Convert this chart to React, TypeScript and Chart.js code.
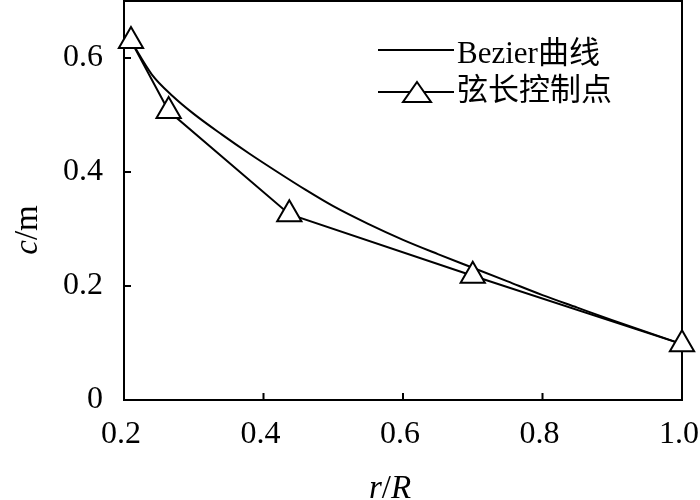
import React, { useEffect, useRef } from "react";
import { Chart, registerables } from "chart.js";

Chart.register(...registerables);

// ---- data ----
const controlR = [0.21, 0.264, 0.437, 0.7, 1.0];
const controlC = [0.63, 0.507, 0.326, 0.218, 0.098];

const bezierR = [0.21, 0.24, 0.27, 0.3, 0.34, 0.38, 0.42, 0.46, 0.5, 0.55, 0.6, 0.65, 0.7, 0.75, 0.8, 0.85, 0.9, 0.95, 1.0];
const bezierC = [0.63, 0.571, 0.533, 0.502, 0.466, 0.432, 0.4, 0.369, 0.34, 0.309, 0.281, 0.256, 0.232, 0.208, 0.184, 0.162, 0.14, 0.119, 0.098];

const xTicks = [0.2, 0.4, 0.6, 0.8, 1.0];
const xTickLabels = ["0.2", "0.4", "0.6", "0.8", "1.0"];
const yTicks = [0, 0.2, 0.4, 0.6];
const yTickLabels = ["0", "0.2", "0.4", "0.6"];

const seriesNames = ["Bezier曲线", "弦长控制点"];

const SERIF = '"Liberation Serif", "Times New Roman", "Noto Sans CJK SC", serif';

function drawMixed(ctx: CanvasRenderingContext2D, parts: { t: string; italic: boolean }[], cx: number, y: number, size: number) {
  let total = 0;
  const widths: number[] = [];
  for (const p of parts) {
    ctx.font = `${p.italic ? "italic " : ""}${size}px ${SERIF}`;
    const w = ctx.measureText(p.t).width;
    widths.push(w);
    total += w;
  }
  let x = cx - total / 2;
  ctx.textAlign = "left";
  ctx.textBaseline = "alphabetic";
  parts.forEach((p, i) => {
    ctx.font = `${p.italic ? "italic " : ""}${size}px ${SERIF}`;
    ctx.fillText(p.t, x, y);
    x += widths[i];
  });
}

const framePlugin = {
  id: "frameAndText",
  beforeDatasetsDraw(chart: any) {
    const { ctx, chartArea: a, scales } = chart;
    ctx.save();
    ctx.strokeStyle = "#000";
    ctx.lineWidth = 2;
    ctx.strokeRect(a.left, a.top, a.right - a.left, a.bottom - a.top);
    ctx.beginPath();
    for (const t of scales.x.ticks) {
      const px = scales.x.getPixelForValue(t.value);
      ctx.moveTo(px, a.bottom);
      ctx.lineTo(px, a.bottom - 7);
    }
    for (const t of scales.y.ticks) {
      const py = scales.y.getPixelForValue(t.value);
      ctx.moveTo(a.left, py);
      ctx.lineTo(a.left + 7, py);
    }
    ctx.stroke();
    ctx.restore();
  },
  afterDraw(chart: any) {
    const { ctx } = chart;
    ctx.save();
    ctx.fillStyle = "#000";
    ctx.strokeStyle = "#000";
    // x axis title  r/R
    drawMixed(ctx, [
      { t: "r", italic: true },
      { t: "/", italic: false },
      { t: "R", italic: true },
    ], 390, 498, 33);
    // y axis title  c/m
    ctx.save();
    ctx.translate(37, 230);
    ctx.rotate(-Math.PI / 2);
    drawMixed(ctx, [
      { t: "c", italic: true },
      { t: "/m", italic: false },
    ], 0, 0, 33);
    ctx.restore();

    // legend
    const labels = chart.data.datasets.map((d: any) => d.label);
    ctx.lineWidth = 2;
    ctx.beginPath();
    ctx.moveTo(378, 50);
    ctx.lineTo(454, 50);
    ctx.moveTo(378, 92);
    ctx.lineTo(454, 92);
    ctx.stroke();
    ctx.beginPath();
    ctx.moveTo(417, 82);
    ctx.lineTo(431, 102);
    ctx.lineTo(403, 102);
    ctx.closePath();
    ctx.fillStyle = "#fff";
    ctx.fill();
    ctx.stroke();
    ctx.fillStyle = "#000";
    ctx.font = `31px ${SERIF}`;
    ctx.textAlign = "left";
    ctx.textBaseline = "middle";
    ctx.fillText(labels[1], 457, 55);
    ctx.fillText(labels[0], 457, 92);
    ctx.restore();
  },
};

export default function App() {
  const ref = useRef<HTMLCanvasElement | null>(null);
  useEffect(() => {
    if (!ref.current) return;
    const tickFont = { family: SERIF, size: 32 };
    const chart = new Chart(ref.current, {
      type: "line",
      data: {
        datasets: [
          {
            label: seriesNames[1],
            data: controlR.map((x, i) => ({ x, y: controlC[i] })),
            borderColor: "#000",
            borderWidth: 2,
            pointStyle: "triangle",
            pointRadius: 14,
            pointBackgroundColor: "#fff",
            pointBorderColor: "#000",
            pointBorderWidth: 2,
            tension: 0,
            order: 0,
            clip: false,
          },
          {
            label: seriesNames[0],
            data: bezierR.map((x, i) => ({ x, y: bezierC[i] })),
            borderColor: "#000",
            borderWidth: 2,
            pointRadius: 0,
            cubicInterpolationMode: "monotone",
            order: 1,
            clip: false,
          },
        ],
      },
      options: {
        responsive: false,
        animation: false,
        devicePixelRatio: 1,
        layout: { autoPadding: false, padding: { left: 0, right: 18, top: 1, bottom: 0 } },
        plugins: {
          legend: { display: false },
          tooltip: { enabled: false },
          title: { display: false },
        },
        scales: {
          x: {
            type: "linear",
            min: 0.2,
            max: 1.0,
            grid: { display: false, drawTicks: false },
            border: { display: false },
            afterBuildTicks: (s: any) => {
              s.ticks = xTicks.map((v) => ({ value: v }));
            },
            afterFit: (s: any) => {
              s.height = 100;
              s.paddingLeft = 0;
              s.paddingRight = 0;
            },
            ticks: {
              padding: 15,
              labelOffset: -3,
              color: "#000",
              font: tickFont,
              maxRotation: 0,
              autoSkip: false,
              callback: (_v: any, i: number) => xTickLabels[i],
            },
          },
          y: {
            type: "linear",
            min: 0,
            max: 0.7,
            grid: { display: false, drawTicks: false },
            border: { display: false },
            afterBuildTicks: (s: any) => {
              s.ticks = yTicks.map((v) => ({ value: v }));
            },
            afterFit: (s: any) => {
              s.width = 124;
              s.paddingTop = 0;
              s.paddingBottom = 0;
            },
            ticks: {
              padding: 21,
              color: "#000",
              font: tickFont,
              autoSkip: false,
              callback: (_v: any, i: number) => yTickLabels[i],
            },
          },
        },
      },
      plugins: [framePlugin],
    } as any);
    return () => chart.destroy();
  }, []);
  return (
    <div style={{ position: "absolute", left: 0, top: 0, width: 700, height: 500, background: "#fff" }}>
      <canvas ref={ref} width={700} height={500} style={{ display: "block", width: 700, height: 500 }} />
    </div>
  );
}
